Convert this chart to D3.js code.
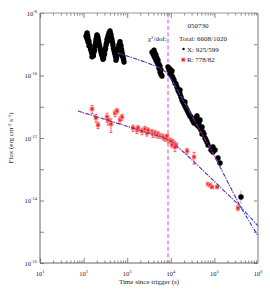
<!DOCTYPE html>
<html lang="en">
<head>
<meta charset="utf-8">
<title>GRB 050730 light curve</title>
<script src="https://d3js.org/d3.v7.min.js"></script>
<style>
  body { margin: 0; background: #fff; }
  text { font-family: "Liberation Serif", "DejaVu Serif", serif; fill: #222; }
</style>
</head>
<body>
<script>
// X-ray (black) points: time (s), flux (erg cm^-2 s^-1)
var xrtTime = [114, 120, 126, 133, 140, 148, 156, 164, 173, 183, 192, 203, 214, 225, 238, 251, 264, 279, 294, 310,
  327, 344, 363, 383, 403, 425, 448, 472, 498, 525, 553, 583, 615, 648, 683, 720, 760, 801, 845,
  120, 126, 133, 156, 192, 203, 214, 279, 363, 403, 425, 553, 683, 760,
  117, 123, 130, 137, 144, 152, 160, 168, 178, 188, 198, 208, 220, 231, 245, 258, 272, 287, 302, 318,
  335, 353, 373, 393, 414, 436, 460, 485, 511, 539, 568, 599, 631, 665, 701, 740, 780, 823,
  3706, 3908, 4121, 4121, 4345, 4345, 4581, 4581, 4823, 4823, 5082, 5082, 5358, 5358, 5649, 5649, 5957, 5957, 6281,
  8630, 9100, 9600, 9600, 10110, 10660, 10660, 11220, 11840, 12470, 13150, 13850, 14610, 15400, 16240, 17120,
  18060, 19040, 20080, 21170, 22330, 23550, 24790, 26120, 27540, 29030, 30620, 32270, 34040, 35870, 37840,
  39860, 42070, 44360, 46770, 49300, 52000, 54800, 57700, 60800, 64120, 67600, 71290,
  39860, 46770, 37840, 52000, 21170, 16240, 83700, 92800, 92800, 103300, 121000, 134300, 407000];
var xrtFlux = [1.8e-9, 2.3e-9, 1.6e-9, 1.2e-9, 8.8e-10, 6.5e-10, 5.2e-10, 4.5e-10, 5.6e-10, 8.8e-10, 1.4e-9, 2.0e-9, 1.6e-9, 1.1e-9, 7.6e-10, 5.6e-10, 4.5e-10, 4.2e-10, 4.5e-10, 6.5e-10,
  9.5e-10, 1.4e-9, 1.8e-9, 2.3e-9, 2.65e-9, 2.0e-9, 1.4e-9, 9.5e-10, 6.5e-10, 4.9e-10, 3.9e-10, 4.5e-10, 6.5e-10, 9.5e-10, 1.2e-9, 8.8e-10, 5.6e-10, 3.9e-10, 2.7e-10,
  1.5e-9, 1.2e-9, 9.0e-10, 4.0e-10, 1.0e-9, 1.4e-9, 1.1e-9, 3.3e-10, 1.3e-9, 1.9e-9, 1.5e-9, 3.1e-10, 8.5e-10, 4.3e-10,
  2.0e-9, 1.9e-9, 1.3e-9, 9.5e-10, 7.0e-10, 5.5e-10, 4.2e-10, 4.3e-10, 6.5e-10, 1.1e-9, 1.7e-9, 1.8e-9, 1.3e-9, 9.0e-10, 6.5e-10, 4.8e-10, 3.9e-10, 3.6e-10, 5.0e-10, 7.5e-10,
  1.1e-9, 1.5e-9, 1.9e-9, 2.2e-9, 2.2e-9, 1.6e-9, 1.15e-9, 7.5e-10, 5.4e-10, 4.1e-10, 3.6e-10, 5.2e-10, 7.8e-10, 1.0e-9, 9.5e-10, 6.8e-10, 4.6e-10, 3.3e-10,
  5.6e-10, 4.9e-10, 6.5e-10, 4.2e-10, 5.2e-10, 3.6e-10, 4.5e-10, 3.1e-10, 3.6e-10, 2.7e-10, 3.1e-10, 2.3e-10, 2.3e-10, 1.7e-10, 2.0e-10, 1.3e-10, 1.5e-10, 1.1e-10, 9.6e-11,
  1.87e-10, 1.5e-10, 1.61e-10, 1.12e-10, 1.29e-10, 9.6e-11, 1.39e-10, 8.3e-11, 7.2e-11, 5.75e-11, 5.35e-11, 4.29e-11, 3.44e-11, 2.96e-11, 2.56e-11, 2.05e-11,
  1.64e-11, 1.42e-11, 1.22e-11, 1.06e-11, 9.1e-12, 7.9e-12, 6.8e-12, 5.9e-12, 5.1e-12, 4.7e-12, 4.06e-12, 3.5e-12, 3.02e-12, 3.77e-12, 4.4e-12,
  3.25e-12, 2.42e-12, 3.02e-12, 2.09e-12, 1.8e-12, 2.25e-12, 1.56e-12, 1.34e-12, 1.0e-12, 8.6e-13, 7.4e-13, 5.97e-13,
  5.1e-12, 3.77e-12, 2.81e-12, 1.34e-12, 1.42e-11, 3.44e-11, 4.13e-13, 5.15e-13, 3.56e-13, 4.13e-13, 2.29e-13, 1.58e-13, 1.29e-14];

// optical R band (red) points with symmetric errors
var rTime = [156, 192, 214, 344, 363, 425, 525, 583, 683, 760,
  1358, 1679, 1770, 2185, 2560, 2845, 3000, 3706, 3908, 4345, 4823, 5082, 5649, 6281, 6620, 7360, 8180, 9100,
  8180, 9600, 10660, 11840, 10660, 13150, 12470, 23550, 34040, 71290, 79250, 88100, 114800, 347500];
var rFlux = [8.5e-12, 4.4e-12, 2.6e-12, 4.7e-12, 3.8e-12, 2.8e-12, 6.3e-12, 7.3e-12, 3.8e-12, 4.7e-12,
  2.1e-12, 1.8e-12, 2.1e-12, 1.67e-12, 1.94e-12, 1.45e-12, 1.8e-12, 1.56e-12, 1.34e-12, 1.45e-12, 1.25e-12, 1.34e-12, 1.16e-12, 1.16e-12, 1.08e-12, 9.3e-13, 9.3e-13, 8.0e-13,
  1.16e-12, 8.6e-13, 8.0e-13, 6.9e-13, 6.0e-13, 5.97e-13, 5.15e-13, 3.84e-13, 2.47e-13, 3.37e-14, 3.13e-14, 2.7e-14, 2.7e-14, 5.75e-15];
var rErr = [2.5e-12, 1.2e-12, 0.6e-12, 1.5e-12, 1.2e-12, 1.3e-12, 1.5e-12, 1.5e-12, 1.0e-12, 1.0e-12,
  0.5e-12, 0.4e-12, 0.4e-12, 0.4e-12, 0.4e-12, 0.3e-12, 0.3e-12, 0.3e-12, 0.3e-12, 0.3e-12, 0.25e-12, 0.25e-12, 0.2e-12, 0.2e-12, 0.2e-12, 1.5e-13, 1.5e-13, 1.2e-13,
  1.5e-13, 1.2e-13, 1.2e-13, 1.0e-13, 1.0e-13, 1.0e-13, 1.5e-13, 0.8e-13, 1.0e-13, 4e-15, 4e-15, 3e-15, 3e-15, 1e-15];

// fitted models (nodes of the broken power laws)
var xFitTime = [615, 2560, 5649, 7762, 10660, 19040, 103300, 386000, 1e6];
var xFitFlux = [5.25e-10, 2.7e-10, 1.74e-10, 1.29e-10, 7.2e-11, 1.64e-11, 2.47e-13, 6.67e-15, 7.31e-16];
var rFitTime = [74.4, 7360, 10660, 16240, 27540, 386000, 1e6];
var rFitFlux = [7.3e-12, 1.0e-12, 7.4e-13, 4.45e-13, 2.29e-13, 6.67e-15, 1.53e-15];

var tBreak = 8630;
var xTicks = [1e1, 1e2, 1e3, 1e4, 1e5, 1e6];
var yTicks = [1e-16, 1e-15, 1e-14, 1e-13, 1e-12, 1e-11, 1e-10, 1e-9, 1e-8];
var legendTitle = "050730";
var legendRows = ["Total: 6608/1020", "X: 925/599", "R: 778/82"];

var w = 270, h = 291;
var pl = 40, pr = 258, pt = 13, pb = 263;

var svg = d3.select("body").append("svg").attr("width", w).attr("height", h);

var x = d3.scaleLog().domain([1e1, 1e6]).range([pl, pr]);
var y = d3.scaleLog().domain([1e-16, 1e-8]).range([pb, pt]);

// minor tick values for x
var xMinor = [];
for (var d = 1; d < 6; d++) {
  for (var m = 2; m < 10; m++) xMinor.push(m * Math.pow(10, d));
}

function noText(g) { g.selectAll("text").remove(); g.select(".domain").remove(); }

var axisColor = "#666";
// bottom and top axes
svg.append("g").attr("transform", "translate(0," + pb + ")")
  .call(d3.axisBottom(x).tickValues(xTicks).tickSize(-5)).call(noText);
svg.append("g").attr("transform", "translate(0," + pb + ")")
  .call(d3.axisBottom(x).tickValues(xMinor).tickSize(-2.5)).call(noText);
svg.append("g").attr("transform", "translate(0," + pt + ")")
  .call(d3.axisTop(x).tickValues(xTicks).tickSize(-5)).call(noText);
svg.append("g").attr("transform", "translate(0," + pt + ")")
  .call(d3.axisTop(x).tickValues(xMinor).tickSize(-2.5)).call(noText);
// left and right axes
svg.append("g").attr("transform", "translate(" + pl + ",0)")
  .call(d3.axisLeft(y).tickValues(yTicks).tickSize(-4)).call(noText);
svg.append("g").attr("transform", "translate(" + pr + ",0)")
  .call(d3.axisRight(y).tickValues(yTicks).tickSize(-4)).call(noText);
svg.selectAll(".tick line").attr("stroke", axisColor).attr("stroke-width", 0.8);

// frame
svg.append("line").attr("x1", pl).attr("x2", pl).attr("y1", pt).attr("y2", pb).attr("stroke", axisColor);
svg.append("line").attr("x1", pl).attr("x2", pr).attr("y1", pb).attr("y2", pb).attr("stroke", axisColor);
svg.append("line").attr("x1", pl).attr("x2", pr).attr("y1", pt).attr("y2", pt).attr("stroke", "#999");
svg.append("line").attr("x1", pr).attr("x2", pr).attr("y1", pt).attr("y2", pb).attr("stroke", "#bbb").attr("stroke-width", 2);

// tick labels
xTicks.forEach(function (v) {
  var t = svg.append("text").attr("x", x(v)).attr("y", 276).attr("text-anchor", "middle").attr("font-size", 6.5);
  t.append("tspan").text("10");
  t.append("tspan").attr("dy", -3).attr("font-size", 4.5).text(Math.round(Math.log10(v)));
});
yTicks.filter(function (v, i) { return i % 2 === 0; }).forEach(function (v) {
  var t = svg.append("text").attr("x", 37).attr("y", y(v) + 2.5).attr("text-anchor", "end").attr("font-size", 6.5);
  t.append("tspan").text("10");
  t.append("tspan").attr("dy", -3).attr("font-size", 4.5).text(Math.round(Math.log10(v)));
});

// axis titles
var yl = svg.append("text").attr("transform", "translate(13," + ((pt + pb) / 2) + ") rotate(-90)")
  .attr("text-anchor", "middle").attr("font-size", 7);
yl.append("tspan").text("Flux (erg cm");
yl.append("tspan").attr("dy", -2.5).attr("font-size", 5).text("-2");
yl.append("tspan").attr("dy", 2.5).text(" s");
yl.append("tspan").attr("dy", -2.5).attr("font-size", 5).text("-1");
yl.append("tspan").attr("dy", 2.5).text(")");
svg.append("text").attr("x", (pl + pr) / 2).attr("y", 284).attr("text-anchor", "middle")
  .attr("font-size", 7).text("Time since trigger (s)");

// break time marker
svg.append("line").attr("x1", x(tBreak)).attr("x2", x(tBreak)).attr("y1", pt).attr("y2", pb)
  .attr("stroke", "#e040e8").attr("stroke-width", 1).attr("stroke-dasharray", "4,2.5");

// clip for inside plot
svg.append("clipPath").attr("id", "plot").append("rect")
  .attr("x", pl).attr("y", pt).attr("width", pr - pl).attr("height", pb - pt);

var line = d3.line().x(function (d) { return x(d[0]); }).y(function (d) { return y(d[1]); });
var xFit = xFitTime.map(function (t, i) { return [t, xFitFlux[i]]; });
var rFit = rFitTime.map(function (t, i) { return [t, rFitFlux[i]]; });

var g = svg.append("g").attr("clip-path", "url(#plot)");

// red points with error bars
var rData = rTime.map(function (t, i) { return { t: t, f: rFlux[i], e: rErr[i] }; });
g.selectAll(".rerr").data(rData).enter().append("line")
  .attr("x1", function (d) { return x(d.t); }).attr("x2", function (d) { return x(d.t); })
  .attr("y1", function (d) { return y(d.f + d.e); }).attr("y2", function (d) { return y(Math.max(d.f - d.e, d.f * 0.3)); })
  .attr("stroke", "#f22").attr("stroke-width", 0.8);
g.selectAll(".rcap").data(rData).enter().append("path")
  .attr("d", function (d) {
    var cx = x(d.t), a = y(d.f + d.e), b = y(Math.max(d.f - d.e, d.f * 0.3));
    return "M" + (cx - 1.5) + "," + a + "h3M" + (cx - 1.5) + "," + b + "h3";
  })
  .attr("stroke", "#f22").attr("stroke-width", 0.7);
g.selectAll(".rpt").data(rData).enter().append("rect")
  .attr("x", function (d) { return x(d.t) - 1.9; }).attr("y", function (d) { return y(d.f) - 1.9; })
  .attr("width", 3.8).attr("height", 3.8)
  .attr("fill", "#f22").attr("stroke", "#fa9").attr("stroke-width", 0.7);

// black points with error bars
var xData = xrtTime.map(function (t, i) { return { t: t, f: xrtFlux[i] }; });
g.selectAll(".xerr").data(xData).enter().append("line")
  .attr("x1", function (d) { return x(d.t); }).attr("x2", function (d) { return x(d.t); })
  .attr("y1", function (d) { return y(d.f * (d.t > 300000 ? 1.6 : 1.25)); })
  .attr("y2", function (d) { return y(d.f * (d.t > 300000 ? 0.6 : 0.8)); })
  .attr("stroke", "#999").attr("stroke-width", 0.8);
g.selectAll(".xpt").data(xData).enter().append("circle")
  .attr("cx", function (d) { return x(d.t); }).attr("cy", function (d) { return y(d.f); })
  .attr("r", 2.7).attr("fill", "#000");

// fits: blue dash-dot over full range, red dashed overlay over data range
[xFit, rFit].forEach(function (fit) {
  g.append("path").datum(fit).attr("d", line).attr("fill", "none")
    .attr("stroke", "#2233ee").attr("stroke-width", 1.1).attr("stroke-dasharray", "4,1.5,1,1.5");
});
svg.append("clipPath").attr("id", "xdata").append("rect")
  .attr("x", pl).attr("y", pt).attr("width", x(d3.max(xrtTime)) - pl).attr("height", pb - pt);
svg.append("clipPath").attr("id", "rdata").append("rect")
  .attr("x", pl).attr("y", pt).attr("width", x(d3.max(rTime)) - pl).attr("height", pb - pt);
svg.append("path").datum(xFit).attr("d", line).attr("clip-path", "url(#xdata)").attr("fill", "none")
  .attr("stroke", "#ff3030").attr("stroke-width", 0.6).attr("stroke-dasharray", "2,2");
svg.append("path").datum(rFit).attr("d", line).attr("clip-path", "url(#rdata)").attr("fill", "none")
  .attr("stroke", "#ff3030").attr("stroke-width", 0.6).attr("stroke-dasharray", "2,2");

// legend
svg.append("text").attr("x", 198).attr("y", 28).attr("text-anchor", "middle").attr("font-size", 7).text(legendTitle);
var chi = svg.append("text").attr("x", 148).attr("y", 41).attr("font-size", 7);
chi.append("tspan").text("χ");
chi.append("tspan").attr("dy", -2.5).attr("font-size", 5).text("2");
chi.append("tspan").attr("dy", 2.5).text("/dof:");
svg.append("text").attr("x", 179).attr("y", 41).attr("font-size", 7).text(legendRows[0]);
svg.append("circle").attr("cx", 183.5).attr("cy", 49).attr("r", 1.2).attr("fill", "#000");
svg.append("text").attr("x", 187).attr("y", 51.5).attr("font-size", 7).text(legendRows[1]);
svg.append("rect").attr("x", 181.5).attr("y", 58).attr("width", 3.5).attr("height", 3.5)
  .attr("fill", "#f22").attr("stroke", "#fa9").attr("stroke-width", 0.7);
svg.append("text").attr("x", 187).attr("y", 62).attr("font-size", 7).text(legendRows[2]);
</script>
</body>
</html>
